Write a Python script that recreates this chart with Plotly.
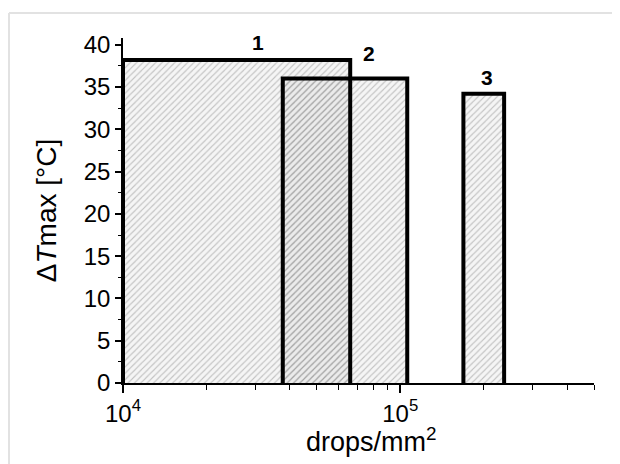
import math
import plotly.graph_objects as go

# Data: bar edges (drops/mm^2) and heights (ΔTmax, °C)
bar_labels = ["1", "2", "3"]
bar_left = [1.0e4, 3.77e4, 1.69e5]
bar_right = [6.6e4, 1.06e5, 2.37e5]
bar_height = [38.2, 36.0, 34.2]
label_x = [3.08e4, 7.7e4, 2.06e5]
label_y = [40.3, 39.0, 36.1]

x_major = [1e4, 1e5]
x_major_text = ["10<sup>4</sup>", "10<sup>5</sup>"]
x_minor = [2e4, 3e4, 4e4, 5e4, 6e4, 7e4, 8e4, 9e4, 2e5, 3e5, 4e5, 5e5]
y_ticks = [0, 5, 10, 15, 20, 25, 30, 35, 40]

FONT = "Liberation Sans, Arial, sans-serif"

fig = go.Figure()

# fills
for l, r, h in zip(bar_left, bar_right, bar_height):
    fig.add_trace(go.Scatter(
        x=[l, l, r, r, l], y=[0, h, h, 0, 0],
        mode="lines", fill="toself",
        line=dict(width=0, color="rgba(0,0,0,0)"),
        fillcolor="rgba(0,0,0,0.04)",
        fillpattern=dict(shape="/", fgcolor="#8c8c8c", bgcolor="rgba(0,0,0,0.04)",
                         size=4.5, solidity=0.25),
        hoverinfo="skip", showlegend=False,
    ))

# outlines (open at bottom)
for l, r, h in zip(bar_left, bar_right, bar_height):
    fig.add_trace(go.Scatter(
        x=[l, l, r, r], y=[0, h, h, 0],
        mode="lines", line=dict(width=4, color="black"),
        hoverinfo="skip", showlegend=False,
    ))

for t, x, y in zip(bar_labels, label_x, label_y):
    fig.add_annotation(x=math.log10(x), y=y, text=f"<b>{t}</b>",
                       showarrow=False, font=dict(family=FONT, size=21, color="black"),
                       xref="x", yref="y")

fig.add_annotation(x=0.527, y=-0.165, xref="paper", yref="paper",
                   text="drops/mm<sup>2</sup>", showarrow=False,
                   xanchor="center", yanchor="middle",
                   font=dict(family=FONT, size=27, color="black"))

# outer light-gray frame
fig.add_shape(type="line", xref="paper", yref="paper", x0=-0.242, x1=1.2, y0=1.0725, y1=1.0725,
              line=dict(color="#e2e2e2", width=2))
fig.add_shape(type="line", xref="paper", yref="paper", x0=-0.242, x1=-0.242, y0=1.0725, y1=-0.4,
              line=dict(color="#e2e2e2", width=2))

fig.update_layout(
    width=612, height=456,
    margin=dict(l=115, r=26, t=30, b=81),
    paper_bgcolor="white", plot_bgcolor="white",
    font=dict(family=FONT, size=24, color="black"),
    showlegend=False,
    xaxis=dict(
        type="log", range=[4, 5.69897],
        tickvals=x_major, ticktext=x_major_text,
        ticks="outside", ticklen=8, tickwidth=1.5, tickcolor="black",
        showline=True, linecolor="black", linewidth=1.5,
        showgrid=False, zeroline=False, mirror=False,
        tickfont=dict(family=FONT, size=24),
        minor=dict(tickvals=x_minor, ticks="outside", ticklen=5, tickwidth=1.2,
                   tickcolor="black", showgrid=False),
        layer="above traces",
    ),
    yaxis=dict(
        range=[0, 40.8],
        tickvals=y_ticks,
        ticks="outside", ticklen=6, tickwidth=1.5, tickcolor="black",
        showline=True, linecolor="black", linewidth=1.5,
        showgrid=False, zeroline=False,
        tickfont=dict(family=FONT, size=24),
        minor=dict(dtick=2.5, tick0=0, ticks="outside", ticklen=3.5, tickwidth=1.2,
                   tickcolor="black", showgrid=False),
        title=dict(text="Δ<i>T</i>max [°C]", font=dict(family=FONT, size=28), standoff=19),
        layer="above traces",
    ),
)

fig.write_html("out.html")
